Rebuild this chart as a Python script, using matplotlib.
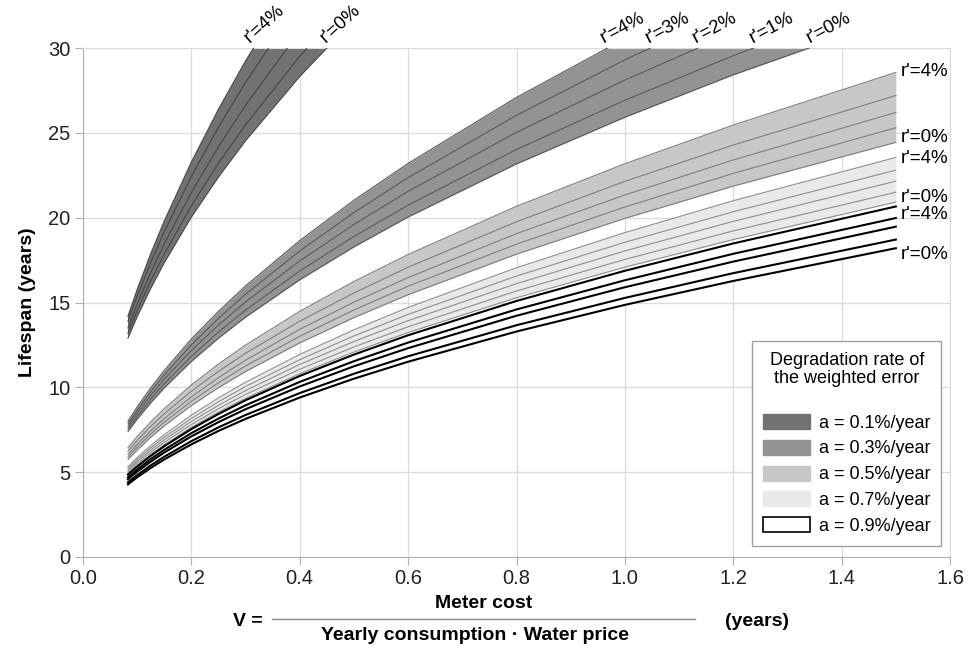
import matplotlib.pyplot as plt
from matplotlib.patches import Patch
from matplotlib.lines import Line2D

plt.rcParams['font.family'] = ['Liberation Sans', 'DejaVu Sans']

# V = meter cost / (yearly consumption * water price), in years
V = [0.083, 0.1, 0.125, 0.15, 0.2, 0.25, 0.3, 0.4, 0.5, 0.6, 0.8, 1.0, 1.2, 1.5]

# lifespan (years), one row per discount rate r' = 0%, 1%, 2%, 3%, 4%
life_a01 = [
    [12.90, 14.16, 15.83, 17.34, 20.03, 22.39, 24.53, 28.32, 31.66, 34.69, 40.05, 44.78, 49.05, 54.84],
    [13.20, 14.52, 16.28, 17.87, 20.70, 23.21, 25.47, 29.52, 33.09, 36.32, 42.08, 47.18, 51.79, 58.05],
    [13.50, 14.90, 16.76, 18.46, 21.49, 24.18, 26.63, 31.00, 34.88, 38.41, 44.72, 50.31, 55.41, 62.35],
    [13.90, 15.38, 17.37, 19.18, 22.44, 25.33, 27.98, 32.72, 36.95, 40.80, 47.73, 53.89, 59.51, 67.20],
    [14.20, 15.77, 17.88, 19.80, 23.28, 26.39, 29.24, 34.37, 38.97, 43.17, 50.75, 57.52, 63.73, 72.25],
]
life_a03 = [
    [7.40, 8.13, 9.09, 9.97, 11.53, 12.90, 14.14, 16.34, 18.28, 20.04, 23.17, 25.92, 28.42, 31.80],
    [7.55, 8.30, 9.31, 10.21, 11.83, 13.26, 14.55, 16.86, 18.89, 20.74, 24.02, 26.92, 29.55, 33.12],
    [7.70, 8.48, 9.53, 10.48, 12.17, 13.67, 15.03, 17.45, 19.60, 21.55, 25.03, 28.11, 30.91, 34.71],
    [7.85, 8.66, 9.75, 10.74, 12.50, 14.07, 15.49, 18.04, 20.30, 22.36, 26.03, 29.30, 32.26, 36.31],
    [8.00, 8.85, 9.97, 11.00, 12.85, 14.48, 15.98, 18.65, 21.03, 23.20, 27.09, 30.55, 33.69, 38.00],
]
life_a05 = [
    [5.75, 6.31, 7.06, 7.73, 8.93, 9.98, 10.93, 12.62, 14.11, 15.46, 17.85, 19.96, 21.86, 24.44],
    [5.90, 6.48, 7.25, 7.95, 9.18, 10.27, 11.26, 13.01, 14.56, 15.96, 18.44, 20.63, 22.61, 25.30],
    [6.05, 6.65, 7.44, 8.16, 9.44, 10.57, 11.60, 13.42, 15.02, 16.47, 19.06, 21.34, 23.40, 26.20],
    [6.25, 6.87, 7.70, 8.44, 9.77, 10.94, 12.01, 13.90, 15.56, 17.08, 19.76, 22.14, 24.28, 27.20],
    [6.45, 7.10, 7.96, 8.74, 10.14, 11.37, 12.49, 14.48, 16.24, 17.83, 20.67, 23.18, 25.46, 28.56],
]
life_a07 = [
    [4.92, 5.40, 6.04, 6.61, 7.64, 8.54, 9.35, 10.80, 12.08, 13.23, 15.28, 17.08, 18.71, 20.92],
    [5.02, 5.51, 6.17, 6.76, 7.81, 8.74, 9.58, 11.07, 12.38, 13.57, 15.68, 17.54, 19.22, 21.50],
    [5.12, 5.63, 6.30, 6.91, 7.99, 8.94, 9.81, 11.35, 12.70, 13.93, 16.11, 18.04, 19.78, 22.15],
    [5.22, 5.74, 6.43, 7.06, 8.17, 9.15, 10.05, 11.63, 13.03, 14.30, 16.56, 18.55, 20.35, 22.80],
    [5.32, 5.86, 6.57, 7.21, 8.36, 9.38, 10.30, 11.94, 13.39, 14.71, 17.05, 19.12, 21.00, 23.55],
]
life_a09 = [
    [4.28, 4.70, 5.25, 5.75, 6.64, 7.43, 8.14, 9.40, 10.51, 11.51, 13.29, 14.86, 16.27, 18.20],
    [4.40, 4.83, 5.40, 5.91, 6.83, 7.64, 8.37, 9.66, 10.80, 11.83, 13.66, 15.27, 16.73, 18.71],
    [4.58, 5.03, 5.62, 6.16, 7.11, 7.95, 8.71, 10.05, 11.24, 12.31, 14.22, 15.90, 17.41, 19.47],
    [4.70, 5.16, 5.77, 6.32, 7.30, 8.16, 8.94, 10.32, 11.54, 12.64, 14.59, 16.31, 17.87, 19.98],
    [4.86, 5.33, 5.96, 6.53, 7.54, 8.43, 9.24, 10.67, 11.93, 13.07, 15.09, 16.87, 18.48, 20.66],
]

bands = [life_a01, life_a03, life_a05, life_a07, life_a09]
band_labels = ["a = 0.1%/year", "a = 0.3%/year", "a = 0.5%/year",
               "a = 0.7%/year", "a = 0.9%/year"]
fill_colors = ["#727272", "#939393", "#c8c6c6", "#e9e9e9", "#ffffff"]
line_colors = ["#474747", "#5a5a5a", "#7e7e7e", "#8e8e8e", "#000000"]
line_widths = [0.8, 0.8, 0.8, 0.8, 1.5]

fig = plt.figure(figsize=(9.69, 6.55), dpi=100)
ax = fig.add_axes([83 / 969, 98 / 655, 867 / 969, 509 / 655])

for curves, fc, lc, lw in zip(bands, fill_colors, line_colors, line_widths):
    ax.fill_between(V, curves[0], curves[4], color=fc, lw=0, zorder=2)
    for c in curves:
        ax.plot(V, c, color=lc, lw=lw, zorder=3)

ax.set_xlim(0, 1.6)
ax.set_ylim(0, 30)
ax.set_xticks([0.0, 0.2, 0.4, 0.6, 0.8, 1.0, 1.2, 1.4, 1.6])
ax.set_xticklabels(["0.0", "0.2", "0.4", "0.6", "0.8", "1.0", "1.2", "1.4", "1.6"])
ax.set_yticks(range(0, 31, 5))
ax.grid(True, color="#dcdcdc", lw=1, zorder=0)
ax.set_axisbelow(True)
for side in ax.spines:
    ax.spines[side].set_color("#dcdcdc")
ax.spines['left'].set_color("#b0b0b0")
ax.spines['bottom'].set_color("#b0b0b0")
ax.tick_params(direction='out', length=6, color="#b0b0b0", labelsize=14.5,
               labelcolor="#222222", pad=3)
ax.set_ylabel("Lifespan (years)", fontsize=14, fontweight='bold', labelpad=9)

# r' labels along the top edge
for x, t in [(0.312, "r'=4%"), (0.452, "r'=0%")]:
    ax.text(x, 30.1, t, rotation=42, rotation_mode='anchor', ha='left',
            va='bottom', fontsize=13.5, clip_on=False)
for x, t in [(0.965, "r'=4%"), (1.048, "r'=3%"), (1.135, "r'=2%"),
             (1.24, "r'=1%"), (1.345, "r'=0%")]:
    ax.text(x, 30.1, t, rotation=28, rotation_mode='anchor', ha='left',
            va='bottom', fontsize=13.5, clip_on=False)

# r' labels at the right end
for y, t in [(28.6, "r'=4%"), (24.7, "r'=0%"), (23.5, "r'=4%"),
             (21.2, "r'=0%"), (20.2, "r'=4%"), (17.8, "r'=0%")]:
    ax.text(1.51, y, t, ha='left', va='center', fontsize=13.5)

handles = []
for fc, lc in zip(fill_colors, line_colors):
    if fc == "#ffffff":
        handles.append(Patch(facecolor=fc, edgecolor="#000000", lw=1.2))
    else:
        handles.append(Patch(facecolor=fc, edgecolor=fc))
leg = ax.legend(handles, band_labels,
                title="Degradation rate of\nthe weighted error\n",
                loc='lower right', bbox_to_anchor=(0.99, 0.022),
                borderaxespad=0,
                fontsize=13, title_fontsize=13, fancybox=False,
                edgecolor="#a0a0a0", framealpha=1, handlelength=2.6,
                handleheight=0.9, labelspacing=0.45, borderpad=0.6,
                handletextpad=0.5)
leg.get_frame().set_linewidth(1.0)
leg.get_title().set_multialignment('center')
leg.get_title().set_linespacing(1.1)
leg.set_zorder(5)

# x-axis label written as a fraction
W, H = 969, 655
fig.text(248 / W, 1 - 621 / H, "V =", ha='center', va='center',
         fontsize=14, fontweight='bold')
fig.text(484 / W, 1 - 603 / H, "Meter cost", ha='center', va='center',
         fontsize=14, fontweight='bold')
fig.add_artist(Line2D([272 / W, 695 / W], [1 - 619 / H, 1 - 619 / H],
                      color="#8a8a8a", lw=1))
fig.text(475 / W, 1 - 636 / H, "Yearly consumption \u00b7 Water price",
         ha='center', va='center', fontsize=14, fontweight='bold')
fig.text(757 / W, 1 - 621 / H, "(years)", ha='center', va='center',
         fontsize=14, fontweight='bold')

fig.savefig("out.png", dpi=100)
